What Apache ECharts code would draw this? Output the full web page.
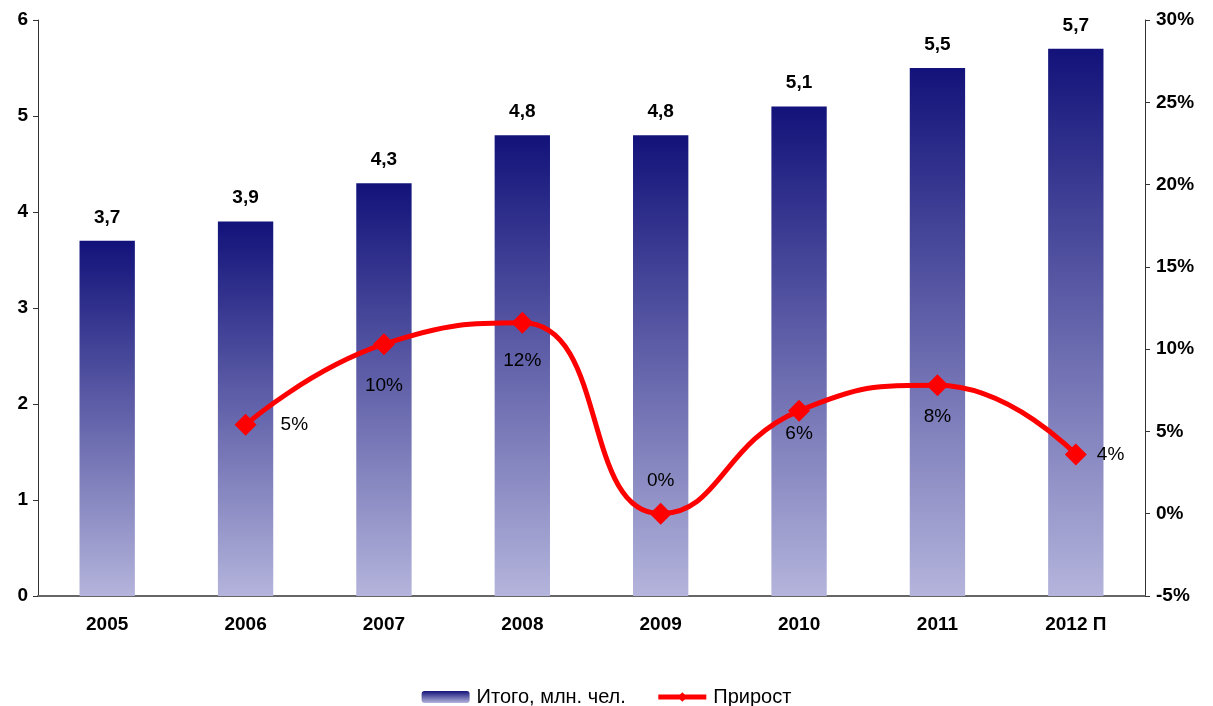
<!DOCTYPE html>
<html>
<head>
<meta charset="utf-8">
<script src="https://cdn.jsdelivr.net/npm/echarts@6/dist/echarts.min.js"></script>
<style>
  html, body { margin: 0; padding: 0; background: #fff; }
  #chart { width: 1213px; height: 706px; }
</style>
</head>
<body>
<div id="chart"></div>
<script>
// данные
var years = ['2005', '2006', '2007', '2008', '2009', '2010', '2011', '2012 П'];
var totals = [3.7, 3.9, 4.3, 4.8, 4.8, 5.1, 5.5, 5.7];
var growth = [null, 5.4, 10.3, 11.6, 0, 6.25, 7.8, 3.6];

// где стоит подпись у каждой точки прироста и насколько отодвинута
var growthLabelPos = ['right', 'right', 'bottom', 'bottom', 'top', 'bottom', 'bottom', 'right'];
var growthLabelDist = [10, 24, 21, 17, 12, 2, 11, 10];

var font = 'Liberation Sans, Arial, sans-serif';

var chart = echarts.init(document.getElementById('chart'));

chart.setOption({
  animation: false,
  textStyle: { fontFamily: font },
  grid: { left: 38, right: 68, top: 20, bottom: 110 },
  legend: {
    top: 682,
    left: 'center',
    itemWidth: 48,
    itemHeight: 12,
    itemGap: 30,
    textStyle: { fontSize: 20, color: '#000', fontFamily: font, padding: [0, 0, 0, 2] },
    data: [
      { name: 'Итого, млн. чел.' },
      { name: 'Прирост', lineStyle: { width: 5 } }
    ]
  },
  xAxis: {
    type: 'category',
    data: years,
    axisLine: { lineStyle: { color: '#666', width: 2 } },
    axisTick: { length: 6, lineStyle: { color: '#333' } },
    axisLabel: { fontSize: 19, fontWeight: 'bold', color: '#000', margin: 19 }
  },
  yAxis: [
    {
      type: 'value',
      min: 0, max: 6, interval: 1,
      splitLine: { show: false },
      axisLine: { show: true, lineStyle: { color: '#333' } },
      axisTick: { show: true, length: 5, lineStyle: { color: '#333' } },
      axisLabel: { fontSize: 19, fontWeight: 'bold', color: '#000', margin: 10 }
    },
    {
      type: 'value',
      min: -5, max: 30, interval: 5,
      position: 'right',
      splitLine: { show: false },
      axisLine: { show: true, lineStyle: { color: '#333' } },
      axisTick: { show: true, length: 5, lineStyle: { color: '#333' } },
      axisLabel: { fontSize: 19, fontWeight: 'bold', color: '#000', margin: 11, formatter: '{value}%' }
    }
  ],
  series: [
    {
      name: 'Итого, млн. чел.',
      type: 'bar',
      data: totals,
      barWidth: '40%',
      itemStyle: {
        color: new echarts.graphic.LinearGradient(0, 0, 0, 1, [
          { offset: 0, color: '#12127a' },
          { offset: 1, color: '#b4b4dc' }
        ])
      },
      label: {
        show: true,
        position: 'top',
        distance: 14,
        fontSize: 19,
        fontWeight: 'bold',
        color: '#000',
        formatter: function (p) { return String(p.value).replace('.', ','); }
      }
    },
    {
      name: 'Прирост',
      type: 'line',
      yAxisIndex: 1,
      smooth: 0.5,
      symbol: 'diamond',
      symbolSize: 22,
      lineStyle: { color: '#ff0000', width: 5 },
      itemStyle: { color: '#ff0000' },
      data: growth.map(function (v, i) {
        return {
          value: v,
          label: { position: growthLabelPos[i], distance: growthLabelDist[i] }
        };
      }),
      label: {
        show: true,
        fontSize: 19,
        color: '#000',
        formatter: function (p) { return Math.round(p.value) + '%'; }
      }
    }
  ]
});
</script>
</body>
</html>
